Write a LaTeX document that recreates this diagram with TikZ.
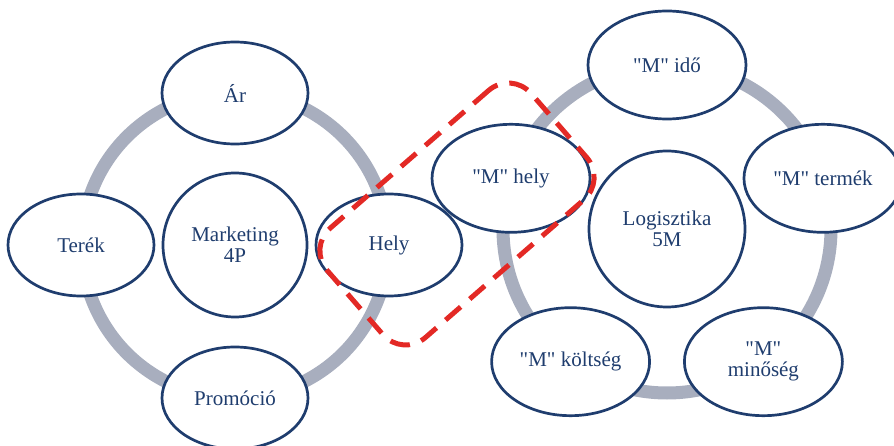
\documentclass[tikz,border=0pt]{standalone}
\usepackage{fontspec}
% straight double quotes must stay straight, so TeX ligatures are off
\setmainfont{Liberation Serif}[Ligatures=TeXOff]
\usetikzlibrary{shapes.geometric,calc}
\definecolor{navy}{HTML}{1F3D6E}
\definecolor{ringgray}{HTML}{A8AEBE}
\definecolor{hlred}{HTML}{E32925}

\begin{document}
\begin{tikzpicture}[x=1pt,y=-1pt,
  ring/.style={draw=ringgray, line width=13pt},
  bubble/.style={draw=navy, line width=2.7pt, fill=white, text=navy,
    font=\fontsize{21}{21}\selectfont, align=center, inner sep=0pt},
  smallel/.style={bubble, ellipse, minimum width=146pt, minimum height=102pt},
  bigel/.style={bubble, ellipse, minimum width=158pt, minimum height=108pt},
  smallhub/.style={bubble, circle, minimum size=144pt},
  bighub/.style={bubble, circle, minimum size=156pt},
  highlight/.style={draw=hlred, line width=5pt, dash pattern=on 20pt off 12pt,
    rounded corners=30pt, minimum width=270pt, minimum height=145pt, rotate=41}
]
\useasboundingbox (0,0) rectangle (894,446);

% centres of the two cycles
\coordinate (c4p) at (235,245);
\coordinate (c5m) at (667,229);

% grey rings behind the bubbles
\draw[ring] (c4p) circle[radius=153pt];
\draw[ring] (c5m) circle[radius=164pt];

% Marketing 4P cycle
\node[smallhub] (mkt) at (c4p) {Marketing\\4P};
\node[smallel] (ar) at ($(c4p)+(90:152pt)$) {Ár};
\node[smallel] (terek) at ($(c4p)+(180:154pt)$) {Terék};
\node[smallel] (promo) at ($(c4p)+(270:153pt)$) {Promóció};
\node[smallel] (hely) at ($(c4p)+(0:154pt)$) {Hely};

% Logisztika 5M cycle
\node[bighub] (log) at (c5m) {Logisztika\\5M};
\node[bigel] (ido) at ($(c5m)+(90:164pt)$) {"M" idő};
\node[bigel] (termek) at ($(c5m)+(18:164pt)$) {"M" termék};
\node[bigel] (minoseg) at ($(c5m)+(-54:164pt)$) {"M"\\minőség};
\node[bigel] (koltseg) at ($(c5m)+(-126:164pt)$) {"M" költség};
\node[bigel] (mhely) at ($(c5m)+(162:164pt)$) {"M" hely};

% dashed frame linking the two "place" elements
\node[highlight] (link) at (457,214) {};
\end{tikzpicture}
\end{document}
